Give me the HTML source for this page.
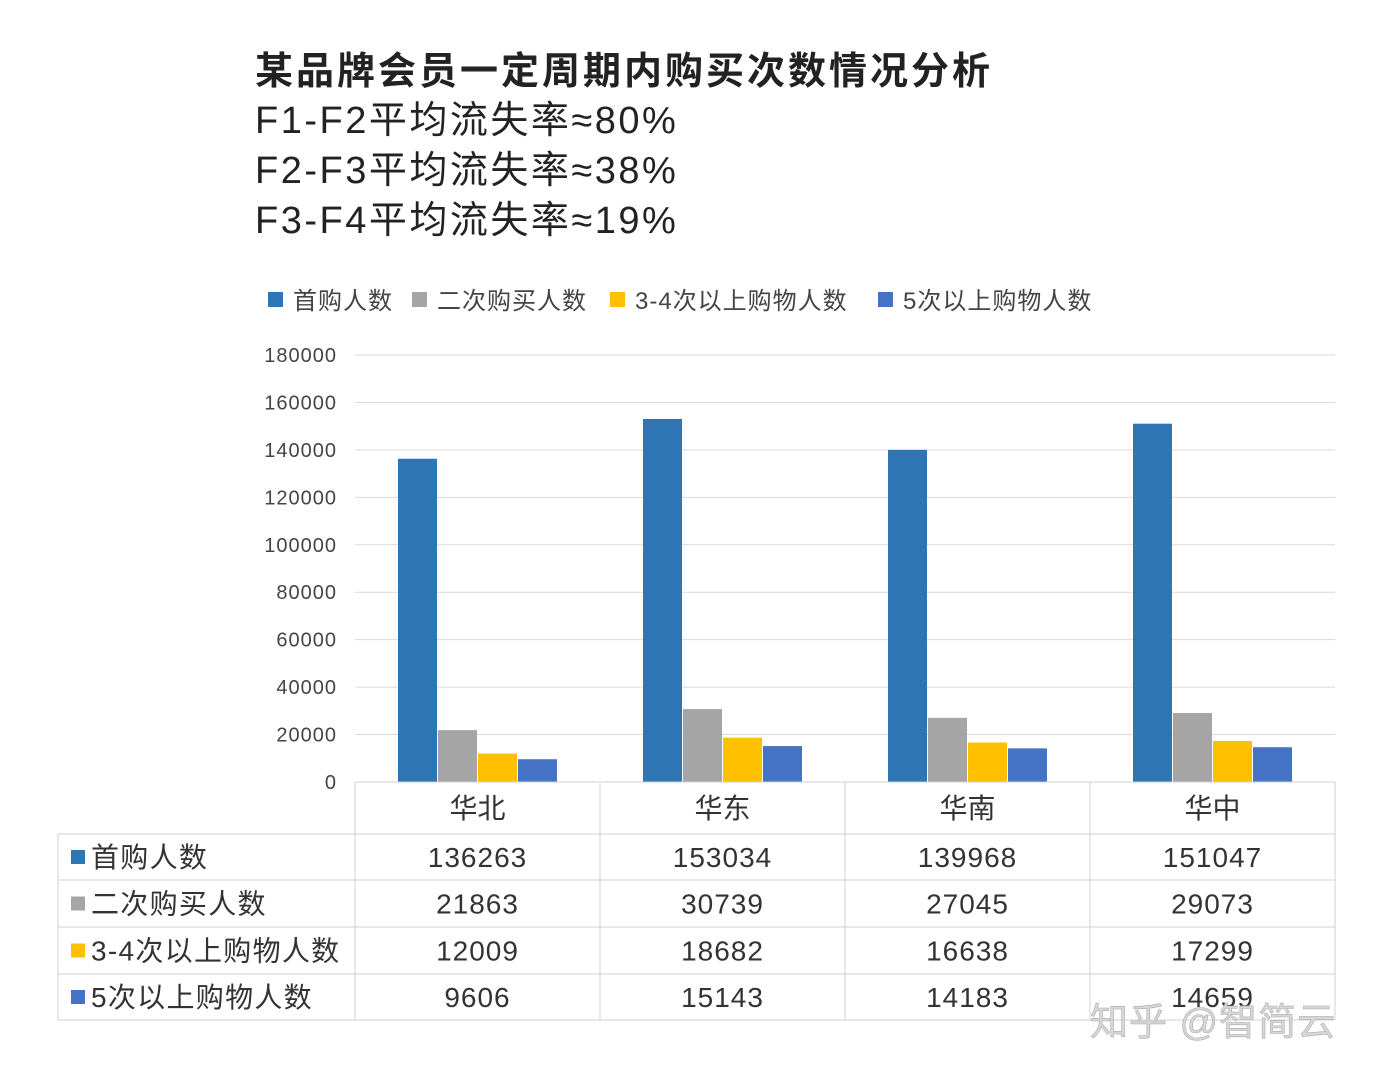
<!DOCTYPE html>
<html><head><meta charset="utf-8"><style>
body{margin:0;background:#fff;width:1384px;height:1078px;overflow:hidden;font-family:"Liberation Sans","Noto Sans CJK SC",sans-serif;}
svg text{font-family:"Liberation Sans","Noto Sans CJK SC",sans-serif;}
</style></head><body>
<svg width="1384" height="1078">
<text x="255" y="84" font-size="38" font-weight="bold" fill="#222" letter-spacing="3">某品牌会员一定周期内购买次数情况分析</text>
<text x="255" y="133" font-size="38" fill="#222" letter-spacing="2.5">F1-F2平均流失率≈80%</text>
<text x="255" y="183" font-size="38" fill="#222" letter-spacing="2.5">F2-F3平均流失率≈38%</text>
<text x="255" y="233" font-size="38" fill="#222" letter-spacing="2.5">F3-F4平均流失率≈19%</text>
<g id="legend"></g>
<g id="grid"></g>
<g id="bars"></g>
<g id="table"></g>
<text x="1090" y="1035" font-size="38" fill="#d8d8d8" stroke="#aaa" stroke-width="0.6" letter-spacing="1">知乎 @智简云</text>
</svg>
<script>
const categories=["华北","华东","华南","华中"];
const seriesNames=["首购人数","二次购买人数","3-4次以上购物人数","5次以上购物人数"];
const firstBuy=[136263,153034,139968,151047];
const secondBuy=[21863,30739,27045,29073];
const thirdBuy=[12009,18682,16638,17299];
const fifthBuy=[9606,15143,14183,14659];
const yTicks=[0,20000,40000,60000,80000,100000,120000,140000,160000,180000];
const colors=["#2e75b6","#a5a5a5","#ffc000","#4472c4"];
const series=[firstBuy,secondBuy,thirdBuy,fifthBuy];
const NS="http://www.w3.org/2000/svg";
const x0=355,x1=1335,y0=782,y1=355,yMax=180000;
const catW=(x1-x0)/categories.length;
const yS=v=>y0-(v/yMax)*(y0-y1);
function mk(t,a,p){const e=document.createElementNS(NS,t);for(const k in a)e.setAttribute(k,a[k]);p.appendChild(e);return e;}
const grid=document.getElementById('grid');
yTicks.forEach(t=>{
 const l=mk('line',{x1:x0,x2:x1,y1:yS(t),y2:yS(t),stroke:'#d9d9d9','stroke-width':1},grid);
 
 
 const tx=mk('text',{x:337,y:yS(t)+7,'font-size':20,fill:'#444','text-anchor':'end','letter-spacing':1},grid);
 tx.textContent=t;
 
 
});
const bars=document.getElementById('bars');
categories.forEach((c,i)=>{
 series.forEach((s,j)=>{
  const bx=x0+i*catW+43+j*40;
  const r=mk('rect',{x:bx,y:yS(s[i]),width:39,height:y0-yS(s[i]),fill:colors[j]},bars);
  
  
 });
});
const lg=document.getElementById('legend');
const lgX=[268,412,610,878];
seriesNames.forEach((n,j)=>{
 const r=mk('rect',{x:lgX[j],y:292,width:15,height:15,fill:colors[j]},lg);
 
 
 const t=mk('text',{x:lgX[j]+25,y:309,'font-size':24,fill:'#444','letter-spacing':1},lg);
 t.textContent=n;
 
 
});
const tb=document.getElementById('table');
const rowY=[782,834,880,927,974,1020];
const bc='#d0d0d0';
for(let i=0;i<=categories.length;i++){const xx=x0+i*catW;mk('line',{x1:xx,x2:xx,y1:782,y2:1020,stroke:bc},tb);}
mk('line',{x1:58,x2:58,y1:834,y2:1020,stroke:bc},tb);
rowY.forEach((y,k)=>{mk('line',{x1:k===0?x0:58,x2:x1,y1:y,y2:y,stroke:bc},tb);});
categories.forEach((c,i)=>{
 const t=mk('text',{x:x0+i*catW+catW/2,y:818,'font-size':28,fill:'#333','text-anchor':'middle'},tb);
 t.textContent=c;
 
 
});
series.forEach((s,j)=>{
 const cy=(rowY[j+1]+rowY[j+2])/2;
 mk('rect',{x:71,y:cy-7,width:14,height:14,fill:colors[j]},tb);
 const h=mk('text',{x:91,y:cy+10,'font-size':28,fill:'#333','letter-spacing':1.3},tb);
 h.textContent=seriesNames[j];
 
 
 s.forEach((v,i)=>{
  const t=mk('text',{x:x0+i*catW+catW/2,y:cy+10,'font-size':28,fill:'#333','text-anchor':'middle','letter-spacing':1},tb);
  t.textContent=v;
  
  
 });
});
</script>
</body></html>
